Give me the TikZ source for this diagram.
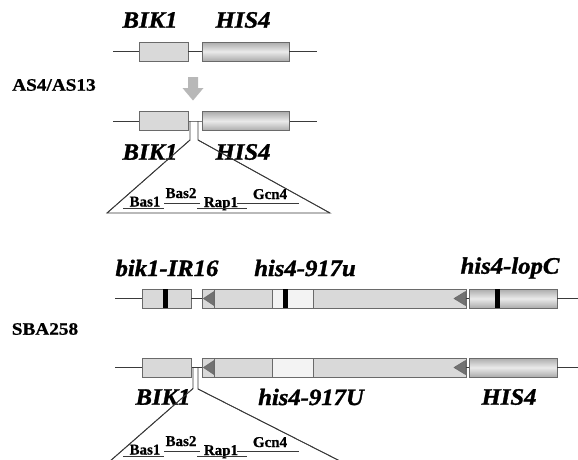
\documentclass[tikz,border=0pt]{standalone}
\usepackage{fontspec}
\setmainfont{Liberation Serif}[BoldItalicFeatures={FakeBold=1.3},BoldFeatures={FakeBold=0.8}]
\usetikzlibrary{calc}
\definecolor{boxfill}{HTML}{D9D9D9}
\definecolor{boxedge}{HTML}{6A6A6A}
\definecolor{hisdark}{HTML}{ABABAB}
\definecolor{hislight}{HTML}{EAEAEA}
\definecolor{paleseg}{HTML}{F3F3F3}
\definecolor{tridark}{HTML}{727272}
\definecolor{arrowgray}{HTML}{B8B8B8}
\definecolor{wire}{HTML}{3A3A3A}
\newcommand{\wider}[2][1.05]{\scalebox{#1}[1]{#2}}
\begin{document}
\begin{tikzpicture}[x=1pt,y=-1pt,
  wireline/.style={draw=wire,line width=0.8pt},
  genebox/.style={draw=boxedge,line width=0.9pt,fill=boxfill,inner sep=0pt,
    minimum height=19pt,rectangle},
  hisbox/.style={genebox,top color=hisdark,bottom color=hisdark,middle color=hislight},
  genelabel/.style={font=\fontsize{23.5}{23.5}\selectfont\bfseries\itshape,inner sep=0pt},
  strainlabel/.style={font=\fontsize{17.5}{17.5}\selectfont\bfseries,inner sep=0pt},
  sitelabel/.style={font=\fontsize{15}{15}\selectfont\bfseries,inner sep=0pt,anchor=base},
  mutbar/.style={fill=black,draw=none},
  orient/.style={fill=tridark,draw=boxedge,line width=0.6pt,line join=round}]
\useasboundingbox (0,0) rectangle (578,459);
\fill[white] (0,0) rectangle (578,459);
\clip (0,0) rectangle (578,459);

% ---------------- wild-type locus (top) ----------------
\coordinate (r1w) at (113,51.5);
\coordinate (r1e) at (317,51.5);
\node[genebox,minimum width=49pt] (bik1a) at (163.5,51.5) {};
\node[hisbox,minimum width=87pt] (his1a) at (245.5,51.5) {};
\draw[wireline] (r1w) -- (bik1a.west);
\draw[wireline] (bik1a.east) -- (his1a.west);
\draw[wireline] (his1a.east) -- (r1e);
\node[genelabel] (lbik1a) at (150,20) {\wider{BIK1}};
\node[genelabel] (lhis1a) at (243,20) {\wider{HIS4}};

\node[strainlabel] (as) at (54,85) {\wider[1.1]{AS4/AS13}};

% conversion arrow
\fill[arrowgray] (188,77) -- (198,77) -- (198,88) -- (203.5,88) -- (193,100.5)
  -- (182.5,88) -- (188,88) -- cycle;

% ---------------- converted locus ----------------
\coordinate (r2w) at (113,121);
\coordinate (r2e) at (317,121);
\coordinate (ins2l) at (190,121);
\coordinate (ins2r) at (198,121);
\draw[wireline] (r2w) -- (ins2l) -- (ins2r) -- (r2e);
\draw[wireline] (ins2l) -- ++(0,19) coordinate (ins2lb) -- (107,213) coordinate (tri2l)
  -- (330,213) coordinate (tri2r) -- (198,140) coordinate (ins2rb) -- (ins2r);
\node[genebox,minimum width=49pt] (bik1b) at (163.5,121) {};
\node[hisbox,minimum width=87pt] (his1b) at (245.5,121) {};
\node[genelabel] (lbik1b) at (150,152) {\wider{BIK1}};
\node[genelabel] (lhis1b) at (243,152) {\wider{HIS4}};
% redraw the insert edges that pass over the labels
\draw[wireline] (ins2lb) -- (tri2l);
\draw[wireline] (ins2rb) -- (tri2r);

% promoter sites
\node[sitelabel] (bas1a) at (145,206.5) {Bas1};
\node[sitelabel] (bas2a) at (181,198) {Bas2};
\node[sitelabel] (rap1a) at (221,207) {Rap1};
\node[sitelabel] (gcn4a) at (270,199) {Gcn4};
\draw[wireline] (123,208) -- (164,208);
\draw[wireline] (164,203) -- (200,203);
\draw[wireline] (197,208) -- (247,208);
\draw[wireline] (237,203) -- (299,203);

% ---------------- SBA258 parent ----------------
\node[strainlabel] (sba) at (45,329) {\wider[1.1]{SBA258}};

\coordinate (r3w) at (115,298.5);
\coordinate (r3e) at (578,298.5);
\node[genebox,minimum width=49pt] (bik1c) at (166.5,298.5) {};
\node[genebox,minimum width=264pt] (mid3) at (334,298.5) {};
\node[hisbox,minimum width=88pt] (lopc) at (513,298.5) {};
\draw[wireline] (r3w) -- (bik1c.west);
\draw[wireline] (bik1c.east) -- (mid3.west);
\draw[wireline] (mid3.east) -- (lopc.west);
\draw[wireline] (lopc.east) -- (r3e);
% segments inside the long box
\draw[boxedge,line width=0.9pt,fill=paleseg] (272,289) rectangle (313,308);
\draw[boxedge,line width=0.9pt] (214,289) -- (214,308);
\fill[mutbar] (163,289) rectangle (168,308);
\fill[mutbar] (283,289) rectangle (288,308);
\fill[mutbar] (495,289) rectangle (500,308);
\draw[orient] (203.5,298.5) -- (214,291.5) -- (214,305.5) -- cycle;
\draw[orient] (454,298.5) -- (465.5,291.5) -- (465.5,305.5) -- cycle;
\node[genelabel] (lbik1c) at (167,268) {\wider{bik1-IR16}};
\node[genelabel] (l917u) at (305,268) {\wider{his4-917u}};
\node[genelabel] (llopc) at (510,268) {\wider{his4-lopC}};

% ---------------- SBA258 converted ----------------
\coordinate (r4w) at (115,367.5);
\coordinate (r4e) at (578,367.5);
\coordinate (ins4l) at (193,367.5);
\coordinate (ins4r) at (198,367.5);
\draw[wireline] (r4w) -- (ins4l) -- (ins4r) -- (202,367.5);
\draw[wireline] (ins4l) -- ++(0,21) coordinate (ins4lb) -- (109,462) coordinate (tri4l);
\draw[wireline] (ins4r) -- (198,389) coordinate (ins4rb) -- (340,461) coordinate (tri4r);
\node[genebox,minimum width=49pt] (bik1d) at (166.5,367.5) {};
\node[genebox,minimum width=264pt] (mid4) at (334,367.5) {};
\node[hisbox,minimum width=88pt] (his4d) at (513,367.5) {};
\draw[wireline] (mid4.east) -- (his4d.west);
\draw[wireline] (his4d.east) -- (r4e);
\draw[boxedge,line width=0.9pt,fill=paleseg] (272,358) rectangle (313,377);
\draw[boxedge,line width=0.9pt] (214,358) -- (214,377);
\draw[orient] (203.5,367.5) -- (214,360.5) -- (214,374.5) -- cycle;
\draw[orient] (454,367.5) -- (465.5,360.5) -- (465.5,374.5) -- cycle;
\node[genelabel] (lbik1d) at (163,397) {\wider{BIK1}};
\node[genelabel] (l917U) at (311,397) {\wider{his4-917U}};
\node[genelabel] (lhis4d) at (509,397) {\wider{HIS4}};
\draw[wireline] (ins4lb) -- (tri4l);
\draw[wireline] (ins4rb) -- (tri4r);

\node[sitelabel] (bas1b) at (145,454.5) {Bas1};
\node[sitelabel] (bas2b) at (181,446) {Bas2};
\node[sitelabel] (rap1b) at (221,455) {Rap1};
\node[sitelabel] (gcn4b) at (270,447) {Gcn4};
\draw[wireline] (123,456) -- (164,456);
\draw[wireline] (164,451) -- (200,451);
\draw[wireline] (197,456) -- (247,456);
\draw[wireline] (237,451) -- (299,451);
\end{tikzpicture}
\end{document}
